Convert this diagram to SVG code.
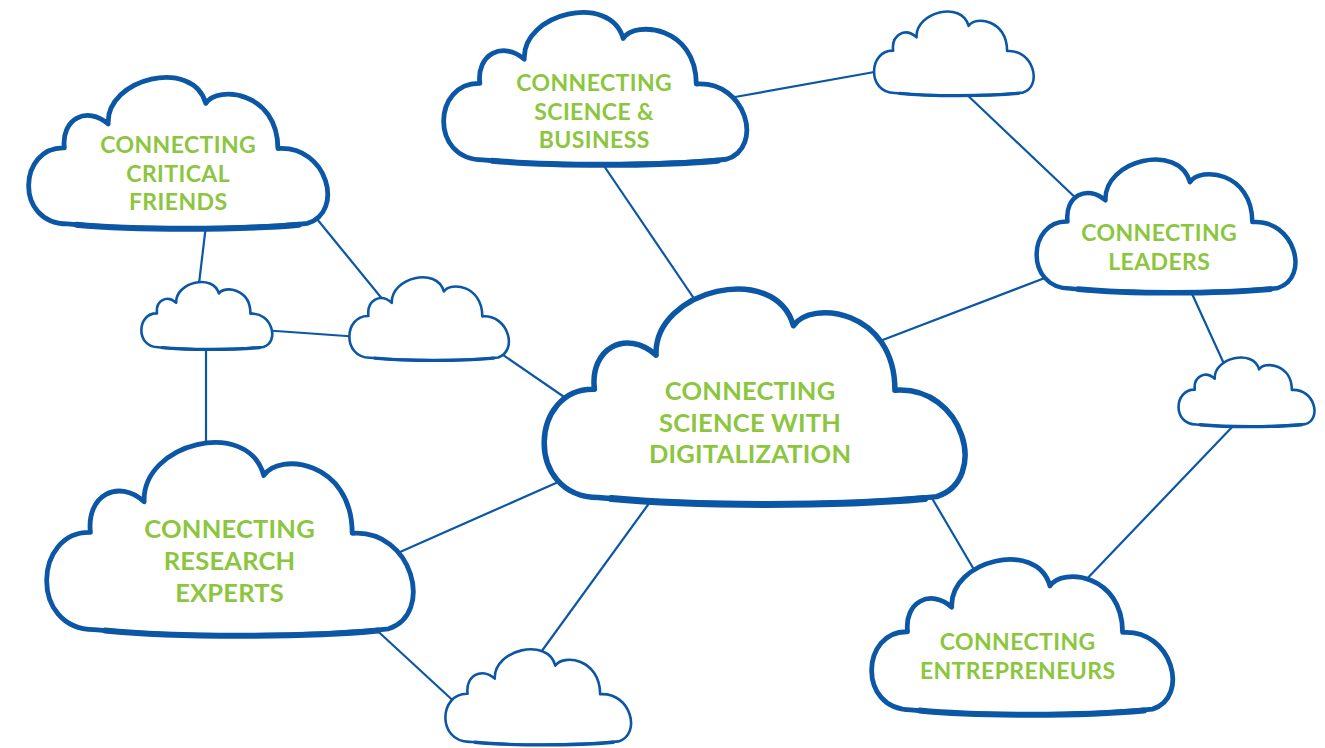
<svg xmlns="http://www.w3.org/2000/svg" xmlns:xlink="http://www.w3.org/1999/xlink" width="1325" height="748" viewBox="0 0 1325 748">
<style>
.cl use{fill:#fff;stroke:#0b57a6;stroke-linejoin:round;stroke-linecap:round}
.cl use.b{fill:none}
.xl use{stroke-width:5.5}.xl use.b{stroke-width:7}
.lg use{stroke-width:4.8}.lg use.b{stroke-width:6}
.md use{stroke-width:4.5}.md use.b{stroke-width:5.6}
.sm use{stroke-width:2.6}.sm use.b{stroke-width:3.3}
#connectors line{stroke:#0b57a6;stroke-width:2.2}
text{font-family:Lato,"Open Sans","DejaVu Sans",sans-serif;font-weight:700;fill:#8cc63f;text-anchor:middle}
.t1{font-size:25.5px;letter-spacing:0.2px}.t2{font-size:23px;letter-spacing:0.4px}
</style>
<defs>
<path id="cloud" vector-effect="non-scaling-stroke" d="M53,102 C48,60 85,40 115,67 C112,0 235,-30 253,37 C270,10 355,20 355,103 C425,98 450,195 397,212 C300,222 150,222 57,213 C-18,212 -12,100 53,102 Z"/>
<path id="cbot" vector-effect="non-scaling-stroke" d="M385,214 C300,222 150,222 70,214"/>
</defs>
<rect width="1325" height="748" fill="#fff"/>
<g id="connectors">
<line x1="600" y1="160" x2="695" y2="300"/>
<line x1="735" y1="97" x2="880" y2="71"/>
<line x1="962" y1="90" x2="1080" y2="202"/>
<line x1="1050" y1="276" x2="880" y2="341"/>
<line x1="1188" y1="285" x2="1225" y2="366"/>
<line x1="1235" y1="424" x2="1082" y2="584"/>
<line x1="926" y1="488" x2="976" y2="573"/>
<line x1="650" y1="502" x2="536" y2="659"/>
<line x1="565" y1="479" x2="400" y2="552"/>
<line x1="370" y1="624" x2="460" y2="707"/>
<line x1="570" y1="401" x2="490" y2="346"/>
<line x1="360" y1="337" x2="262" y2="330"/>
<line x1="308" y1="208" x2="388" y2="306"/>
<line x1="206" y1="225" x2="198" y2="292"/>
<line x1="206" y1="340" x2="206" y2="452"/>
</g>
<g id="node-small-tr" class="cl sm" transform="translate(873.13,11.77) scale(0.3774,0.3813)"><use xlink:href="#cloud"/><use class="b" xlink:href="#cbot"/></g>
<g id="node-small-l1" class="cl sm" transform="translate(140.59,282.21) scale(0.3095,0.3055)"><use xlink:href="#cloud"/><use class="b" xlink:href="#cbot"/></g>
<g id="node-small-l2" class="cl sm" transform="translate(348.43,277.56) scale(0.3771,0.3768)"><use xlink:href="#cloud"/><use class="b" xlink:href="#cbot"/></g>
<g id="node-small-r" class="cl sm" transform="translate(1177.76,357.72) scale(0.3214,0.3132)"><use xlink:href="#cloud"/><use class="b" xlink:href="#cbot"/></g>
<g id="node-small-bottom" class="cl sm" transform="translate(444.29,649.6) scale(0.439,0.433)"><use xlink:href="#cloud"/><use class="b" xlink:href="#cbot"/></g>
<g id="node-science-business">
<g class="cl lg" transform="translate(441.85,12.98) scale(0.7167,0.690)"><use xlink:href="#cloud"/><use class="b" xlink:href="#cbot"/></g>
<text class="t2" x="594.2" y="91">CONNECTING</text>
<text class="t2" x="594.2" y="119.5">SCIENCE &amp;</text>
<text class="t2" x="594.2" y="148">BUSINESS</text>
</g>
<g id="node-critical-friends">
<g class="cl lg" transform="translate(26.87,77.98) scale(0.7071,0.6854)"><use xlink:href="#cloud"/><use class="b" xlink:href="#cbot"/></g>
<text class="t2" x="178.2" y="153.3">CONNECTING</text>
<text class="t2" x="178.2" y="181.7">CRITICAL</text>
<text class="t2" x="178.2" y="210">FRIENDS</text>
</g>
<g id="node-research-experts">
<g class="cl lg" transform="translate(44.5,443.1) scale(0.8667,0.876)"><use xlink:href="#cloud"/><use class="b" xlink:href="#cbot"/></g>
<text class="t1" x="229.6" y="538.3">CONNECTING</text>
<text class="t1" x="229.6" y="570">RESEARCH</text>
<text class="t1" x="229.6" y="601.7">EXPERTS</text>
</g>
<g id="node-leaders">
<g class="cl md" transform="translate(1035.09,159.92) scale(0.6119,0.6037)"><use xlink:href="#cloud"/><use class="b" xlink:href="#cbot"/></g>
<text class="t2" x="1159.2" y="241">CONNECTING</text>
<text class="t2" x="1159.2" y="269.5">LEADERS</text>
</g>
<g id="node-entrepreneurs">
<g class="cl lg" transform="translate(869.86,559.99) scale(0.7119,0.7036)"><use xlink:href="#cloud"/><use class="b" xlink:href="#cbot"/></g>
<text class="t2" x="1017.7" y="650">CONNECTING</text>
<text class="t2" x="1017.7" y="678.5">ENTREPRENEURS</text>
</g>
<g id="node-central">
<g class="cl xl" transform="translate(541.7,289.7) scale(0.995,0.976)"><use xlink:href="#cloud"/><use class="b" xlink:href="#cbot"/></g>
<text class="t1" x="750.1" y="400">CONNECTING</text>
<text class="t1" x="750.1" y="431.7">SCIENCE WITH</text>
<text class="t1" x="750.1" y="463.3">DIGITALIZATION</text>
</g>
</svg>
